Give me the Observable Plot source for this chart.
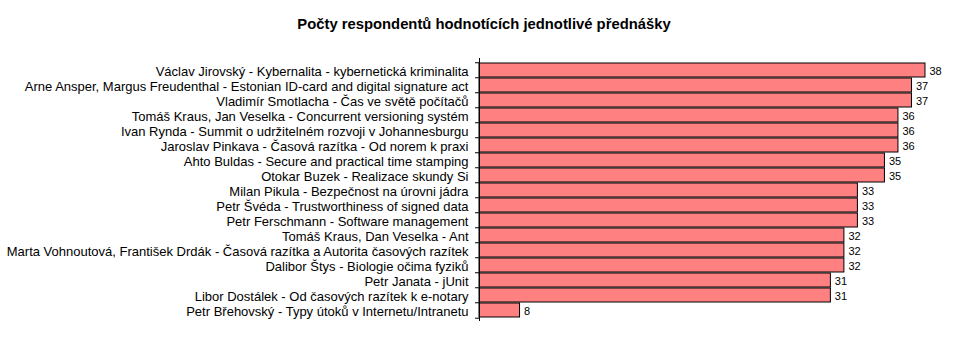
<!DOCTYPE html>
<html>
<head>
<meta charset="utf-8">
<script src="https://cdn.jsdelivr.net/npm/d3@7"></script>
<script src="https://cdn.jsdelivr.net/npm/@observablehq/plot@0.6"></script>
<style>
  html, body { margin: 0; padding: 0; background: #fff; }
  #wrap { position: relative; width: 968px; height: 354px; font-family: "Liberation Sans", Arial, sans-serif; }
  #title { position: absolute; left: 0; top: 15px; width: 968px; text-align: center; font-weight: bold; font-size: 14.8px; line-height: 18px; color: #000; }
  #chart svg { display: block; }
</style>
</head>
<body>
<div id="wrap">
  <div id="chart"></div>
  <div id="title">Počty respondentů hodnotících jednotlivé přednášky</div>
</div>
<script>
const lectures = [
  "Václav Jirovský - Kybernalita - kybernetická kriminalita",
  "Arne Ansper, Margus Freudenthal - Estonian ID-card and digital signature act",
  "Vladimír Smotlacha - Čas ve světě počítačů",
  "Tomáš Kraus, Jan Veselka - Concurrent versioning systém",
  "Ivan Rynda - Summit o udržitelném rozvoji v Johannesburgu",
  "Jaroslav Pinkava - Časová razítka - Od norem k praxi",
  "Ahto Buldas - Secure and practical time stamping",
  "Otokar Buzek - Realizace skundy Si",
  "Milan Pikula - Bezpečnost na úrovni jádra",
  "Petr Švéda - Trustworthiness of signed data",
  "Petr Ferschmann - Software management",
  "Tomáš Kraus, Dan Veselka - Ant",
  "Marta Vohnoutová, František Drdák - Časová razítka a Autorita časových razítek",
  "Dalibor Štys - Biologie očima fyziků",
  "Petr Janata - jUnit",
  "Libor Dostálek - Od časových razítek k e-notary",
  "Petr Břehovský - Typy útoků v Internetu/Intranetu"
];
const respondents = [38, 37, 37, 36, 36, 36, 35, 35, 33, 33, 33, 32, 32, 32, 31, 31, 8];
const axisMin = 5;
const axisMax = 40;

const data = lectures.map((name, i) => ({name, value: respondents[i]}));

const mTop = 58, mBottom = 33, H = 354;
const pIn = 0.1, pOut = 0.05;
const step = (H - mTop - mBottom) / (lectures.length - pIn + 2 * pOut);

const plot = Plot.plot({
  width: 968,
  height: H,
  marginLeft: 479,
  marginRight: 16,
  marginTop: mTop,
  marginBottom: mBottom,
  style: {fontFamily: "'Liberation Sans', Arial, sans-serif", fontSize: "13px", color: "#000", background: "#fff"},
  x: {domain: [axisMin, axisMax], axis: null},
  y: {domain: lectures, paddingInner: pIn, paddingOuter: pOut, label: null},
  marks: [
    Plot.barX(data, {y: "name", x1: () => axisMin, x2: "value", fill: "#FF8080", stroke: "#000", strokeWidth: 1}),
    Plot.axisY({tickSize: 0, tickPadding: 11, fontSize: 13, dy: 1, label: null}),
    Plot.axisY({text: null, tickSize: 4, dy: -step / 2, label: null, stroke: "#000"}),
    Plot.axisY([lectures[lectures.length - 1]], {text: null, tickSize: 4, dy: step / 2, label: null, stroke: "#000"}),
    Plot.ruleX([axisMin], {stroke: "#000"}),
    Plot.text(data, {y: "name", x: "value", text: d => String(d.value), dx: 4, dy: 1, textAnchor: "start", fontSize: 11, fill: "#000"})
  ]
});
document.getElementById("chart").appendChild(plot);
</script>
</body>
</html>
